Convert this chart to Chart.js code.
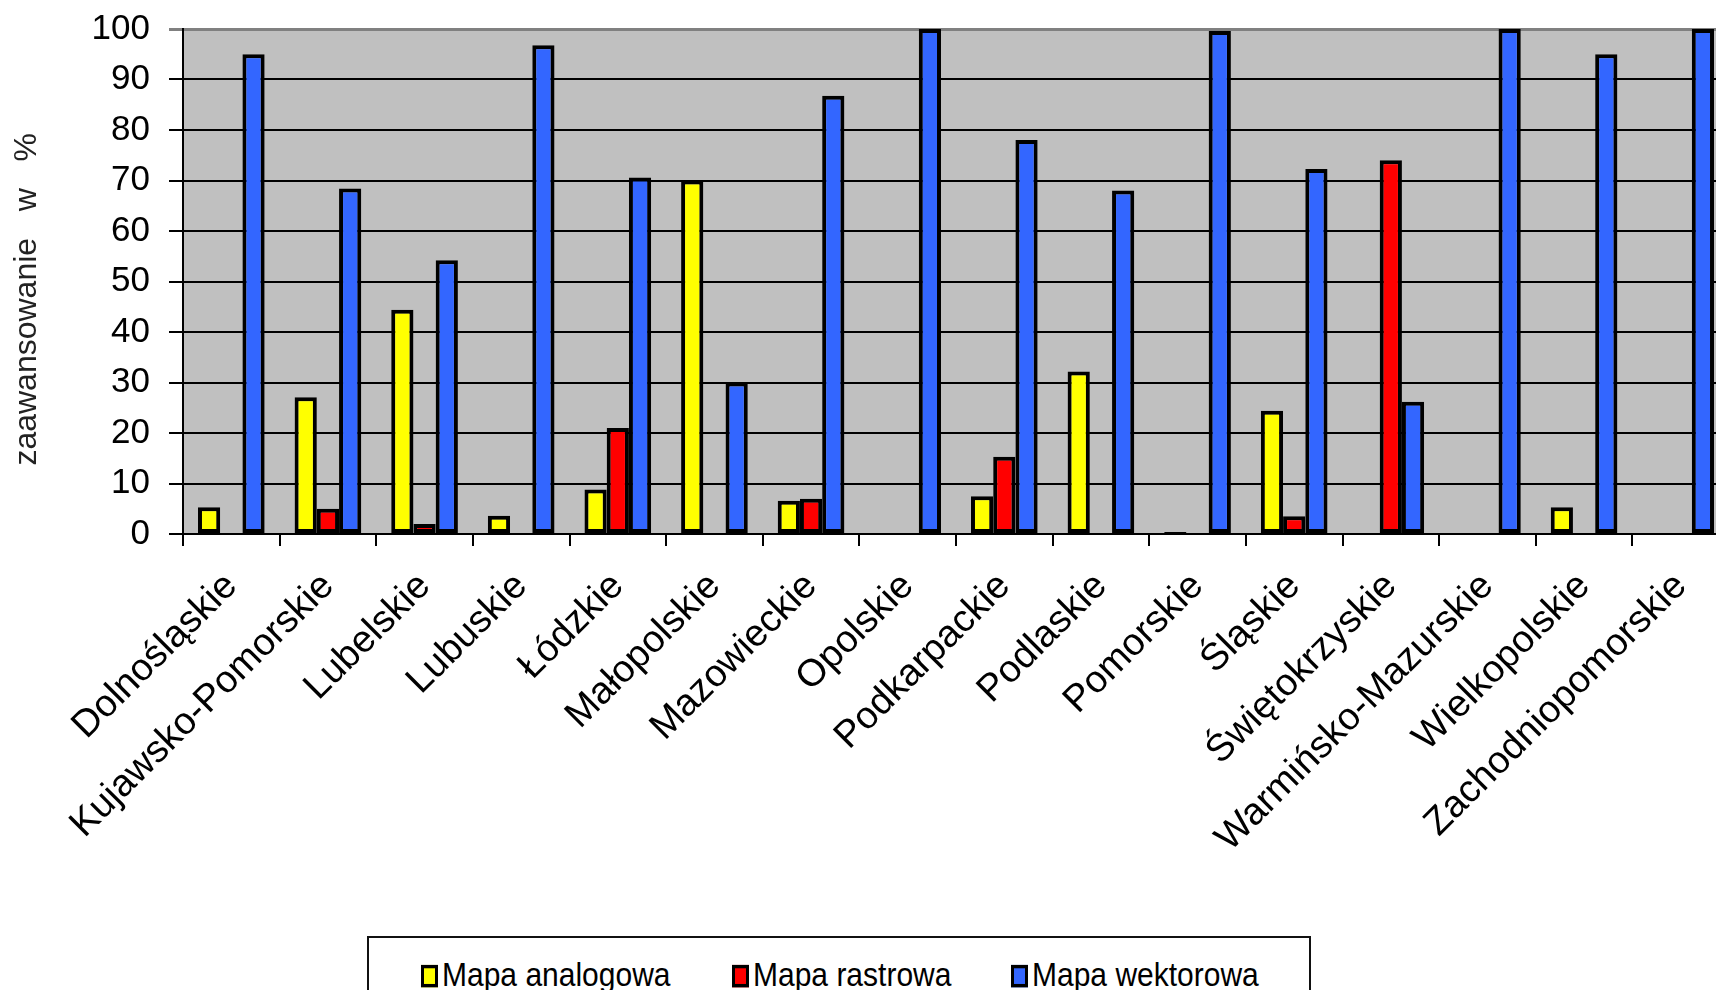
<!DOCTYPE html>
<html>
<head>
<meta charset="utf-8">
<script src="https://cdn.jsdelivr.net/npm/chart.js@4"></script>
<style>
  html, body { margin: 0; padding: 0; background: #fff; overflow: hidden; }
  #wrap { position: relative; width: 1716px; height: 990px; overflow: hidden; }
  #myChart { position: absolute; left: 0; top: 0; }
  #legend {
    position: absolute; left: 367px; top: 936px; width: 940px; height: 80px;
    border: 2px solid #111; background: #fff;
    font-family: "Liberation Sans", Arial, sans-serif; font-size: 30px; color: #000;
  }
  .item { position: absolute; top: 20px; white-space: nowrap; transform: scaleY(1.12); transform-origin: left center; }
  .sw { display: inline-block; width: 11px; height: 14px; border: 3px solid #000; margin-right: 4px; vertical-align: -1px; }
</style>
</head>
<body>
<div id="wrap">
  <canvas id="myChart" width="1740" height="990"></canvas>
  <div id="legend"></div>
</div>
<script>
const regions = [
    'Dolnośląskie', 'Kujawsko-Pomorskie', 'Lubelskie', 'Lubuskie', 'Łódzkie',
    'Małopolskie', 'Mazowieckie', 'Opolskie', 'Podkarpackie', 'Podlaskie',
    'Pomorskie', 'Śląskie', 'Świętokrzyskie', 'Warmińsko-Mazurskie',
    'Wielkopolskie', 'Zachodniopomorskie'
];
const seriesNames = ['Mapa analogowa', 'Mapa rastrowa', 'Mapa wektorowa'];
const analogowa = [5.3, 27.1, 44.4, 3.6, 8.8, 70.0, 6.6, null, 7.5, 32.2, 0.4, 24.4, null, null, 5.3, null];
const rastrowa  = [null, 5.0, 2.0, null, 21.0, null, 7.0, null, 15.3, null, null, 3.5, 74.0, null, null, null];
const wektorowa = [95.0, 68.4, 54.2, 96.8, 70.6, 30.0, 86.8, 100, 78.0, 68.0, 99.6, 72.3, 26.2, 100, 95.0, 100];
const yTicks = [0, 10, 20, 30, 40, 50, 60, 70, 80, 90, 100];
// trailing spaces push the rotated title a bit lower, as in the original
const yTitle = 'zaawansowanie   w   %    ';

const colors = ['#FFFF00', '#FF0000', '#3366FF'];
const font = '"Liberation Sans", Arial, sans-serif';

// grey plot background like the old Excel chart
const plotBg = {
    id: 'plotBg',
    beforeDraw(chart) {
        const a = chart.chartArea;
        const ctx = chart.ctx;
        ctx.save();
        ctx.fillStyle = '#C0C0C0';
        ctx.fillRect(a.left, a.top, a.right - a.left, a.bottom - a.top);
        ctx.restore();
    }
};

function makeDataset(label, data, color) {
    return {
        label: label,
        data: data,
        backgroundColor: color,
        borderColor: '#000',
        borderWidth: 4,
        borderSkipped: false,
        categoryPercentage: 0.69,
        barPercentage: 1.0
    };
}

const ctx = document.getElementById('myChart').getContext('2d');
const myChart = new Chart(ctx, {
    type: 'bar',
    data: {
        labels: regions,
        datasets: [
            makeDataset(seriesNames[0], analogowa, colors[0]),
            makeDataset(seriesNames[1], rastrowa, colors[1]),
            makeDataset(seriesNames[2], wektorowa, colors[2])
        ]
    },
    options: {
        responsive: false,
        animation: false,
        devicePixelRatio: 1,
        layout: { padding: { top: 29, right: 11, bottom: 0, left: 0 } },
        plugins: { legend: { display: false }, tooltip: { enabled: false } },
        scales: {
            x: {
                afterFit: s => { s.height = 456; s.paddingLeft = 0; s.paddingRight = 0; },
                grid: { drawOnChartArea: false, drawTicks: true, tickLength: 12, color: '#000', lineWidth: 2 },
                border: { color: '#000', width: 2 },
                ticks: {
                    color: '#000', minRotation: 45, maxRotation: 45, autoSkip: false, padding: 18,
                    font: { family: font, size: 38 }
                }
            },
            y: {
                min: 0, max: 100,
                afterFit: s => { s.width = 183; s.paddingTop = 0; s.paddingBottom = 0; },
                afterBuildTicks: s => { s.ticks = yTicks.map(v => ({ value: v })); },
                grid: {
                    color: c => c.tick && c.tick.value === 100 ? '#808080' : '#000',
                    lineWidth: c => c.tick && c.tick.value === 100 ? 3 : 2,
                    tickLength: 14
                },
                border: { color: '#000', width: 2 },
                ticks: { color: '#000', padding: 19, font: { family: font, size: 35 } },
                title: {
                    display: true, text: yTitle, color: '#222',
                    font: { family: font, size: 32 },
                    padding: { top: 8, bottom: 0 }
                }
            }
        }
    },
    plugins: [plotBg]
});

// legend box under the chart
const legendPos = [52, 363, 642];
const legend = document.getElementById('legend');
seriesNames.forEach((name, i) => {
    const el = document.createElement('div');
    el.className = 'item';
    el.style.left = legendPos[i] + 'px';
    el.innerHTML = '<span class="sw" style="background:' + colors[i] + '"></span>' + name;
    legend.appendChild(el);
});
</script>
</body>
</html>
